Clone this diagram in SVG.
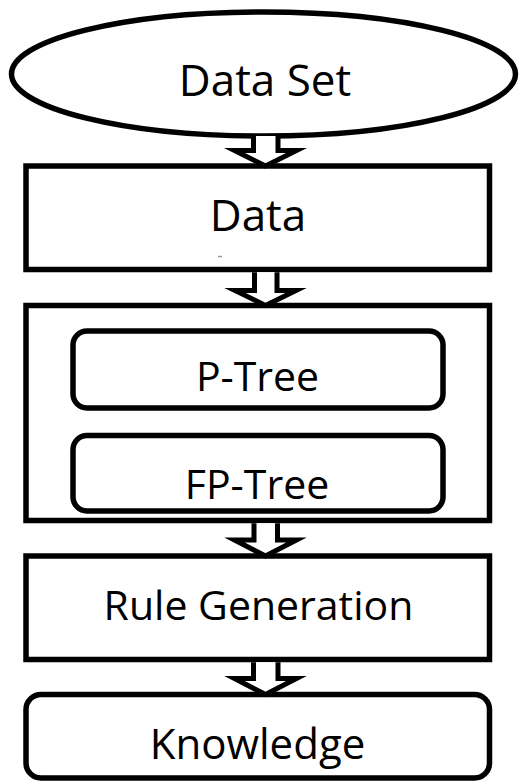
<svg xmlns="http://www.w3.org/2000/svg" width="520" height="781" viewBox="0 0 520 781">
<style>
.box{fill:#fff;stroke:#000;stroke-width:5.5}
.lbl{font-family:"Open Sans","Liberation Sans",sans-serif;fill:#000;text-anchor:middle}
.arr{fill:#fff;stroke:#000;stroke-width:5;stroke-linejoin:miter;stroke-miterlimit:10}
</style>
<rect width="520" height="781" fill="#fff"/>
<g id="data-set">
<ellipse class="box" cx="263.5" cy="74" rx="252" ry="62" stroke-width="5"/>
<text class="lbl" x="265" y="96" font-size="44">Data Set</text>
</g>
<g id="data">
<rect class="box" x="26" y="166" width="463.5" height="103.5"/>
<text class="lbl" x="258" y="231" font-size="44">Data</text>
<line x1="218" y1="256.5" x2="222" y2="256.5" stroke="#999" stroke-width="1.5"/>
</g>
<g id="mining">
<rect class="box" x="26" y="305.5" width="463.5" height="215"/>
<g id="p-tree">
<rect class="box" x="73" y="331" width="370" height="77" rx="14"/>
<text class="lbl" x="257.5" y="391" font-size="41">P-Tree</text>
</g>
<g id="fp-tree">
<rect class="box" x="73" y="435.5" width="370" height="75.5" rx="14"/>
<text class="lbl" x="257" y="499" font-size="41">FP-Tree</text>
</g>
</g>
<g id="rule-generation">
<rect class="box" x="26" y="556" width="463.5" height="103.5"/>
<text class="lbl" x="258.5" y="620" font-size="41">Rule Generation</text>
</g>
<g id="knowledge">
<rect class="box" x="26" y="694.5" width="463.5" height="83.5" rx="15"/>
<text class="lbl" x="257.5" y="759" font-size="42">Knowledge</text>
</g>
<g id="connectors">
<path class="arr" d="M253.5,136 V150.5 H234.5 L265.5,166 L296.5,150.5 H278 V136"/>
<path class="arr" d="M254.5,272.2 V290.5 H235 L265.5,305.5 L296,290.5 H277 V272.2"/>
<path class="arr" d="M254,523.3 V540 H234.5 L265.5,556 L296.5,540 H277.5 V523.3"/>
<path class="arr" d="M253.5,662.3 V678.5 H234.5 L265.5,694.5 L296.5,678.5 H278 V662.3"/>
</g>
</svg>
